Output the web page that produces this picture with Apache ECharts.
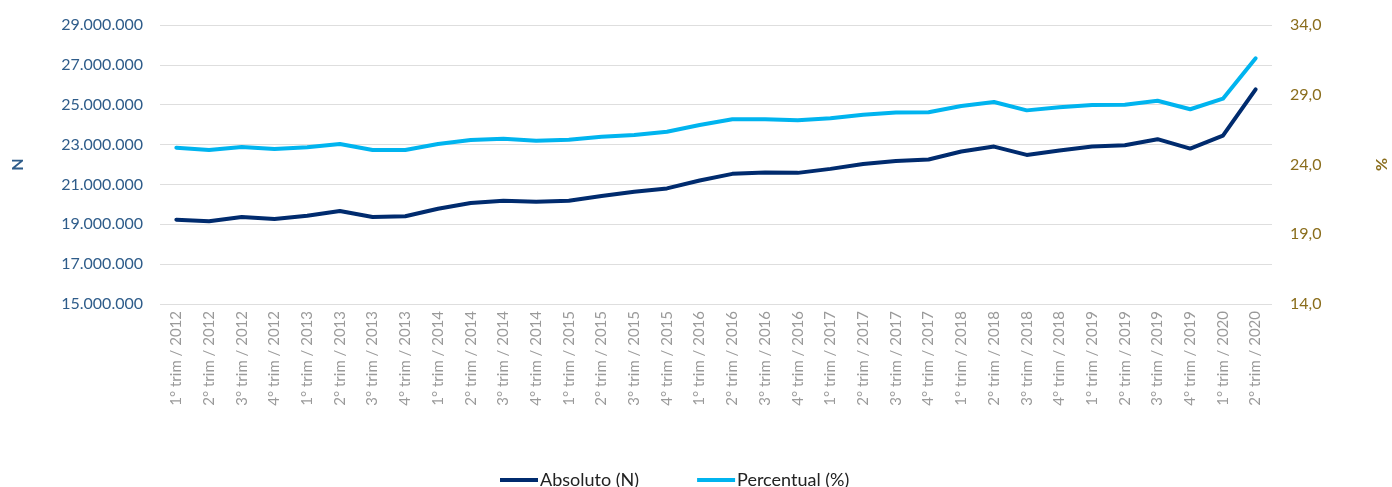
<!DOCTYPE html>
<html>
<head>
<meta charset="utf-8">
<script src="https://cdn.jsdelivr.net/npm/echarts@6/dist/echarts.min.js"></script>
<style>
  html, body { margin: 0; padding: 0; background: #fff; }
  #chart { width: 1392px; height: 487px; }
</style>
</head>
<body>
<div id="chart"></div>
<script>
// categorias (trimestres)
var years = ['2012', '2013', '2014', '2015', '2016', '2017', '2018', '2019'];
var categories = [];
years.forEach(function (y) {
  for (var q = 1; q <= 4; q++) categories.push(q + '° trim / ' + y);
});
categories.push('1° trim / 2020', '2° trim / 2020');

// Absoluto (N), em milhões
var absoluto = [
  19.23, 19.15, 19.37, 19.27, 19.43, 19.67, 19.37, 19.40, 19.78, 20.07,
  20.18, 20.13, 20.18, 20.42, 20.63, 20.80, 21.20, 21.53, 21.60, 21.58,
  21.78, 22.03, 22.18, 22.25, 22.65, 22.90, 22.48, 22.70, 22.90, 22.97,
  23.27, 22.80, 23.45, 25.77
];

// Percentual (%)
var percentual = [
  25.20, 25.04, 25.25, 25.11, 25.23, 25.47, 25.04, 25.04, 25.47, 25.76,
  25.85, 25.71, 25.78, 25.99, 26.11, 26.35, 26.83, 27.24, 27.24, 27.17,
  27.31, 27.57, 27.72, 27.74, 28.19, 28.48, 27.88, 28.10, 28.27, 28.29,
  28.57, 27.96, 28.72, 31.61
];

var fontFam = 'Lato, "Open Sans", sans-serif';

var chart = echarts.init(document.getElementById('chart'));
chart.setOption({
  animation: false,
  grid: { left: 160, right: 120, top: 25, bottom: 183, containLabel: false, outerBoundsMode: 'none' },
  legend: {
    top: 466,
    left: 495,
    itemWidth: 38,
    itemHeight: 4,
    itemGap: 58,
    icon: 'rect',
    textStyle: { fontFamily: fontFam, fontSize: 18, color: '#222', padding: [0, 0, 0, -3] },
    data: ['Absoluto (N)', 'Percentual (%)']
  },
  xAxis: {
    type: 'category',
    data: categories,
    boundaryGap: true,
    axisLine: { show: false },
    axisTick: { show: false },
    axisLabel: {
      rotate: 90,
      interval: 0,
      margin: 7,
      color: '#9a9a9a',
      fontFamily: fontFam,
      fontSize: 15
    }
  },
  yAxis: [
    {
      type: 'value',
      min: 15,
      max: 29,
      interval: 2,
      name: 'N',
      nameLocation: 'middle',
      nameRotate: 90,
      nameGap: 134,
      nameTextStyle: { color: '#2e5c8a', fontFamily: fontFam, fontSize: 16, fontWeight: 'bold' },
      axisLine: { show: false },
      axisTick: { show: false },
      splitLine: { lineStyle: { color: '#dedede', width: 1 } },
      axisLabel: {
        margin: 17,
        color: '#2e5c8a',
        fontFamily: fontFam,
        fontSize: 16,
        formatter: function (v) { return v + '.000.000'; }
      }
    },
    {
      type: 'value',
      min: 14,
      max: 34,
      interval: 5,
      name: '%',
      nameLocation: 'middle',
      nameRotate: 90,
      nameGap: 102,
      nameTextStyle: { color: '#8a6d1c', fontFamily: fontFam, fontSize: 16, fontWeight: 'bold' },
      axisLine: { show: false },
      axisTick: { show: false },
      splitLine: { show: false },
      axisLabel: {
        margin: 18,
        color: '#8a6d1c',
        fontFamily: fontFam,
        fontSize: 16,
        formatter: function (v) { return v.toFixed(1).replace('.', ','); }
      }
    }
  ],
  series: [
    {
      name: 'Absoluto (N)',
      type: 'line',
      yAxisIndex: 0,
      data: absoluto,
      showSymbol: false,
      itemStyle: { color: '#002b6e' },
      lineStyle: { color: '#002b6e', width: 4, cap: 'round', join: 'round' }
    },
    {
      name: 'Percentual (%)',
      type: 'line',
      yAxisIndex: 1,
      data: percentual,
      showSymbol: false,
      itemStyle: { color: '#00b4ef' },
      lineStyle: { color: '#00b4ef', width: 4, cap: 'round', join: 'round' }
    }
  ]
});
</script>
</body>
</html>
